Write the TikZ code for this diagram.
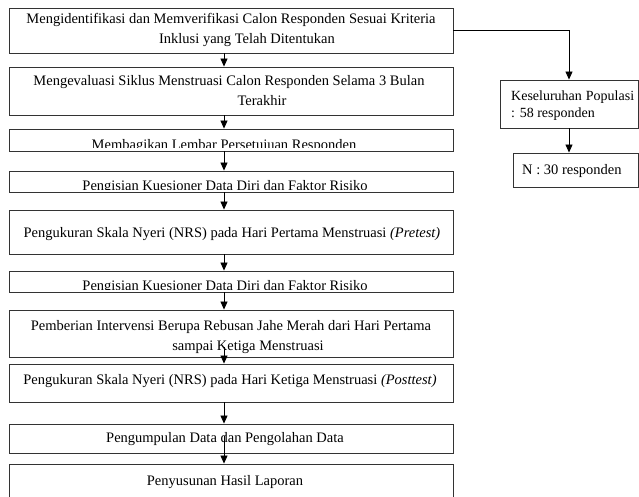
\documentclass[tikz,border=0pt]{standalone}
\usepackage{fontspec}
\setmainfont{Liberation Serif}
\usetikzlibrary{arrows.meta}
\begin{document}
\begin{tikzpicture}[x=1pt,y=-1pt,
  box/.style={draw=black!80, line width=0.9pt, inner sep=0pt, minimum width=444pt},
  rbox/.style={draw=black!80, line width=0.9pt, inner sep=0pt},
  txt/.style={inner sep=0pt, font=\fontsize{14.5}{20}\selectfont, align=center},
  rtxt/.style={inner sep=0pt, font=\fontsize{14.5}{17}\selectfont, align=left, anchor=west},
  arr/.style={draw=black, line width=0.8pt, -{Triangle[width=7pt,length=8pt]}},
]
\useasboundingbox (0,0) rectangle (639,496);
\coordinate (ax) at (224,0);
% main boxes
\node[box, minimum height=45pt] (b1) at (231,30.5) {};
\node[box, minimum height=48pt] (b2) at (231,91) {};
\node[box, minimum height=22pt] (b3) at (231,140) {};
\node[box, minimum height=21pt] (b4) at (231,181.5) {};
\node[box, minimum height=44pt] (b5) at (231,232) {};
\node[box, minimum height=21pt] (b6) at (231,281.5) {};
\node[box, minimum height=47pt] (b7) at (231,333.5) {};
\node[box, minimum height=38pt] (b8) at (231,383) {};
\node[box, minimum height=29pt] (b9) at (231,438.5) {};
\node[box, minimum height=36pt] (b10) at (231,482) {};
% texts
\node[txt] (t1) at (231,30) {Mengidentifikasi dan Memverifikasi Calon Responden Sesuai Kriteria\\\hspace*{32pt}Inklusi yang Telah Ditentukan};
\node[txt] (t2) at (229,90.5) {Mengevaluasi Siklus Menstruasi Calon Responden Selama 3 Bulan\\\hspace*{66pt}Terakhir};
\begin{scope}
\clip (9,129) rectangle (453,147.5);
\node[txt, anchor=base] (t3) at (224,149) {Membagikan Lembar Persetujuan Responden};
\end{scope}
\begin{scope}
\clip (9,171) rectangle (453,189);
\node[txt, anchor=base] (t4) at (225,190.5) {Pengisian Kuesioner Data Diri dan Faktor Risiko};
\end{scope}
\node[txt] (t5) at (232,234) {Pengukuran Skala Nyeri (NRS) pada Hari Pertama Menstruasi \textit{(Pretest)}};
\begin{scope}
\clip (9,271) rectangle (453,289);
\node[txt, anchor=base] (t6) at (225,290.5) {Pengisian Kuesioner Data Diri dan Faktor Risiko};
\end{scope}
\node[txt] (t7) at (231,337) {Pemberian Intervensi Berupa Rebusan Jahe Merah dari Hari Pertama\\\hspace*{34pt}sampai Ketiga Menstruasi};
\node[txt] (t8) at (230,381.5) {Pengukuran Skala Nyeri (NRS) pada Hari Ketiga Menstruasi \textit{(Posttest)}};
\node[txt] (t9) at (225,439) {Pengumpulan Data dan Pengolahan Data};
\node[txt] (t10) at (225,482.5) {Penyusunan Hasil Laporan};
% right boxes
\node[rbox, minimum width=138pt, minimum height=48pt] (k) at (569,104) {};
\node[rtxt, font=\fontsize{14}{17}\selectfont] (tk) at (511,106) {Keseluruhan\hspace{4pt}Populasi\\: 58 responden};
\node[rbox, minimum width=125pt, minimum height=34pt] (n) at (575.5,170) {};
\node[rtxt] (tn) at (522,171.5) {N : 30 responden};
% connectors
\draw[arr] (b1.south -| ax) -- (b2.north -| ax);
\draw[arr] (b2.south -| ax) -- (b3.north -| ax);
\draw[arr] (b3.south -| ax) -- (b4.north -| ax);
\draw[arr] (b4.south -| ax) -- (b5.north -| ax);
\draw[arr] (b5.south -| ax) -- (b6.north -| ax);
\draw[arr] (b6.south -| ax) -- (b7.north -| ax);
\draw[arr] ([yshift=10pt]b7.south -| ax) -- (b8.north -| ax);
\draw[arr] (b8.south -| ax) -- (b9.north -| ax);
\draw[arr] ([yshift=17pt]b9.south -| ax) -- (b10.north -| ax);
\draw[arr] (b1.east) -| (k.north);
\draw[arr] (k.south) -- (k.south |- n.north);
\end{tikzpicture}
\end{document}
